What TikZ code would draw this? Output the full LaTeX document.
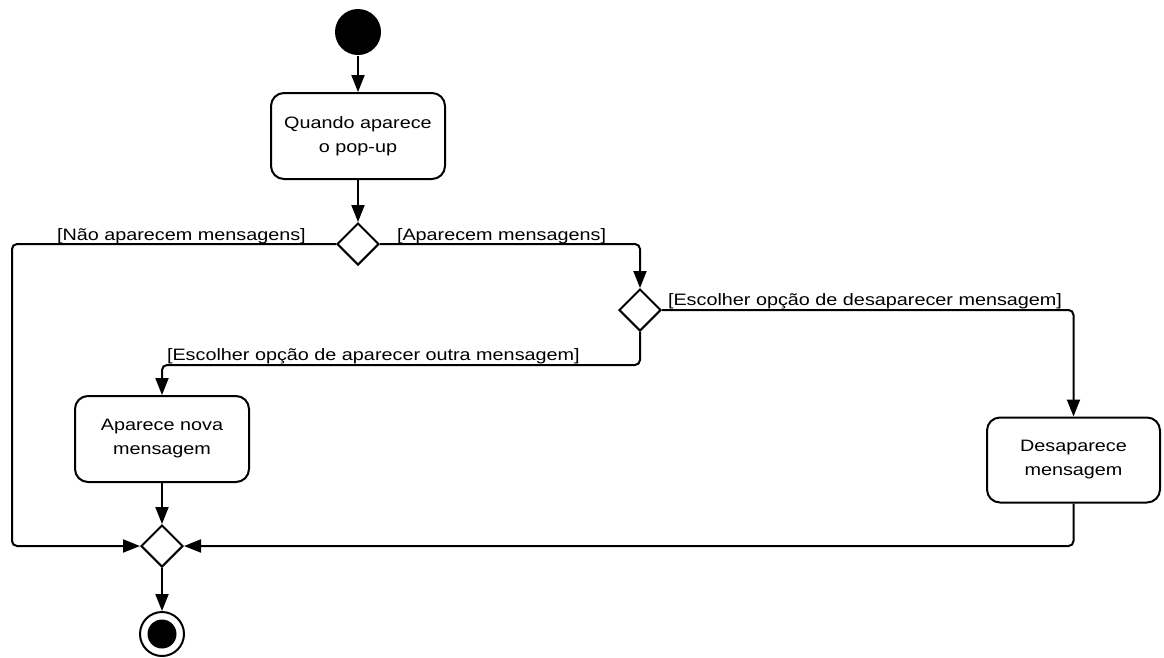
\documentclass[tikz,border=0pt]{standalone}
\usepackage{fontspec}
\setmainfont[FakeStretch=1.2]{Liberation Sans}
\usetikzlibrary{shapes.geometric,arrows.meta}

\begin{document}
\begin{tikzpicture}[x=1pt,y=-1pt,line width=2pt,
  every node/.style={font=\fontsize{16.5}{24}\selectfont},
  action/.style={draw, rounded corners=13pt, align=center,
    minimum width=174pt, minimum height=86pt, inner sep=0pt},
  decision/.style={draw, diamond, aspect=1, minimum size=42pt, inner sep=0pt},
  initial/.style={circle, fill=black, minimum size=46pt, inner sep=0pt},
  final/.style={circle, draw, minimum size=44pt, inner sep=0pt,
    path picture={\fill (path picture bounding box.center) circle (14.5pt);}},
  flow/.style={-{Triangle[length=17pt,width=13pt]}, rounded corners=5pt},
  guard/.style={anchor=base west, inner sep=0pt},
]
\useasboundingbox (0,0) rectangle (1164,657);

% nodes
\node[initial] (start) at (358,32) {};
\node[action] (a1) at (358,136) {Quando aparece\\o pop-up};
\node[decision] (d1) at (358,244) {};
\node[decision] (d2) at (640,310) {};
\node[action] (a2) at (162,439) {Aparece nova\\mensagem};
\node[action, minimum width=173pt, minimum height=85pt] (a3) at (1073.5,460) {Desaparece\\mensagem};
\node[decision] (m) at (162,546) {};
\node[final] (fin) at (162,634) {};

\coordinate (lc) at (12,546);
\coordinate (turn) at (640,365);

% flows
\draw[flow] (start) -- (a1);
\draw[flow] (a1) -- (d1);
\draw[flow] (d1.west) -| (lc) -- (m.west);
\draw[flow] (d1.east) -| (d2.north);
\draw[flow] (d2.east) -| (a3.north);
\draw[flow] (d2.south) -- (turn) -| (a2.north);
\draw[flow] (a2) -- (m);
\draw[flow] (a3.south) |- (m.east);
\draw[flow] (m) -- (fin);

% guards
\node[guard] at (56,240) {[Não aparecem mensagens]};
\node[guard] at (396,240) {[Aparecem mensagens]};
\node[guard] at (667,305) {[Escolher opção de desaparecer mensagem]};
\node[guard] at (166,360) {[Escolher opção de aparecer outra mensagem]};
\end{tikzpicture}
\end{document}
